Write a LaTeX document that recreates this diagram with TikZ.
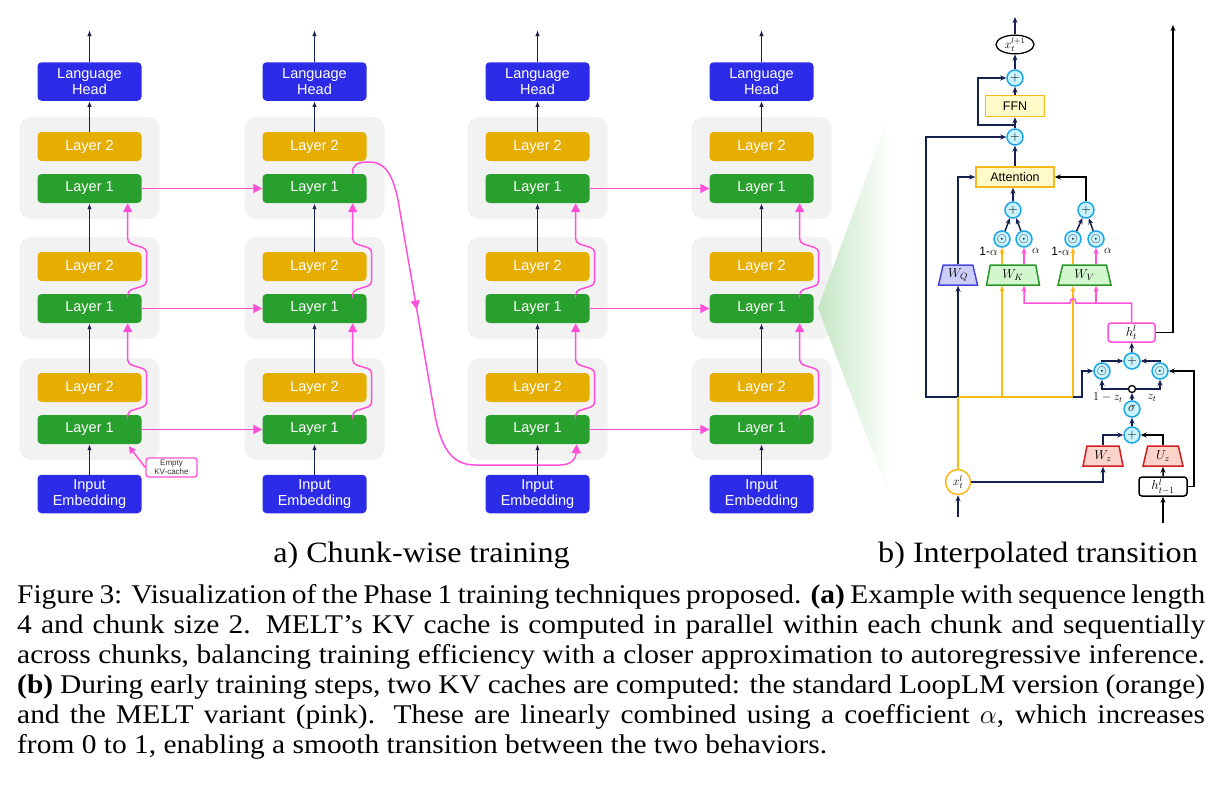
\RequirePackage{fix-cm}
\documentclass[tikz,border=0pt]{standalone}
\usepackage{amsmath}
\usepackage{fontspec}
\setmainfont{Liberation Serif}[FakeStretch=1.09]
\newfontfamily\boxfont{Liberation Sans}
\usetikzlibrary{arrows.meta, shapes.geometric, positioning, decorations.markings}

\definecolor{headblue}{RGB}{44,44,232}
\definecolor{goldlyr}{RGB}{230,174,0}
\definecolor{greenlyr}{RGB}{40,160,45}
\definecolor{grpgray}{RGB}{242,242,242}
\definecolor{kvpink}{RGB}{255,80,215}
\definecolor{navyln}{RGB}{22,32,80}
\definecolor{orgln}{RGB}{250,185,20}
\definecolor{opfill}{RGB}{200,243,255}
\definecolor{opdraw}{RGB}{30,165,230}
\definecolor{ffnfill}{RGB}{255,250,200}
\definecolor{ffndraw}{RGB}{245,185,30}
\definecolor{wqfill}{RGB}{205,205,250}
\definecolor{wqdraw}{RGB}{70,70,220}
\definecolor{wkfill}{RGB}{210,246,205}
\definecolor{wkdraw}{RGB}{40,150,40}
\definecolor{wzfill}{RGB}{250,212,202}
\definecolor{wzdraw}{RGB}{210,30,30}
\definecolor{fadegreen}{RGB}{195,230,195}

\tikzset{
  lyrbox/.style={rounded corners=4pt, minimum width=104pt, minimum height=29pt, inner sep=0pt,
    text=white, font=\boxfont\fontsize{14.5}{16}\selectfont, align=center},
  lyrone/.style={lyrbox, fill=greenlyr},
  lyrtwo/.style={lyrbox, fill=goldlyr},
  headbox/.style={lyrbox, fill=headblue, minimum height=38.5pt},
  grpbox/.style={fill=grpgray, rounded corners=12pt, minimum width=140pt, minimum height=102pt, inner sep=0pt},
  navarr/.style={navyln, line width=1.3pt, -{Latex[length=6pt,width=4.5pt]}},
  pinkarr/.style={kvpink, line width=1.5pt, -{Triangle[length=9pt,width=9pt]}},
  kvbox/.style={draw=kvpink, line width=1.3pt, rounded corners=2.5pt, fill=white, minimum width=51pt,
    minimum height=19pt, inner sep=0pt, align=center, font=\boxfont\fontsize{8}{9}\selectfont, text=black!80},
  opnode/.style={circle, draw=opdraw, fill=opfill, line width=1.5pt, minimum size=16pt, inner sep=0pt,
    font=\fontsize{13}{13}\selectfont},
  wbox/.style={trapezium, trapezium stretches=true, trapezium angle=79, minimum height=20pt,
    line width=1.5pt, inner sep=0pt, font=\fontsize{13}{13}\selectfont},
  tbox/.style={draw=ffndraw, fill=ffnfill, line width=1.5pt, minimum height=21pt, inner sep=0pt,
    font=\boxfont\fontsize{12.5}{13}\selectfont},
  stbox/.style={rounded corners=3pt, fill=white, line width=1.5pt, minimum width=47pt, minimum height=19pt,
    inner sep=0pt, font=\fontsize{13}{13}\selectfont},
  narr/.style={navyln, line width=1.5pt, -{Stealth[length=6pt,width=5pt]}},
  barr/.style={black, line width=1.5pt, -{Stealth[length=6pt,width=5pt]}},
  oarr/.style={orgln, line width=1.5pt, -{Stealth[length=6pt,width=5pt]}},
  parr/.style={kvpink, line width=1.5pt, -{Stealth[length=6pt,width=5pt]}},
  oline/.style={orgln, line width=1.5pt},
  lbl/.style={inner sep=0pt, font=\fontsize{12}{12}\selectfont},
  subcap/.style={anchor=base, inner sep=0pt, font=\fontsize{29.5}{32}\selectfont},
}

\begin{document}
\begin{tikzpicture}[x=1pt, y=-1pt]
\useasboundingbox (0,0) rectangle (1226,798);

% Chunk-wise training: four positions, three loops each
\foreach \i/\x in {1/89.5,2/314.5,3/537.5,4/761.5}{
  \foreach \r/\y in {1/409,2/288,3/168}{
    \node[grpbox] (grp\i\r) at (\x,\y) {};
    \node[lyrtwo] (ltwo\i\r) at (\x,\y-21.5) {Layer 2};
    \node[lyrone] (lone\i\r) at (\x,\y+20.5) {Layer 1};
  }
  \node[headbox] (head\i) at (\x,81.5) {Language\\Head};
  \node[headbox] (emb\i) at (\x,494) {Input\\Embedding};
  \coordinate (out\i) at (\x,30);
  \draw[navarr] (emb\i) -- (lone\i1);
  \draw[navarr] (ltwo\i1) -- (lone\i2);
  \draw[navarr] (ltwo\i2) -- (lone\i3);
  \draw[navarr] (ltwo\i3) -- (head\i);
  \draw[navarr] (head\i) -- (out\i);
  % KV-cache handed to the next loop
  \draw[pinkarr, rounded corners=4pt] ([xshift=-14pt]lone\i1.north east) -- ++(0,-3) -- ++(19,-6)
    -- ++(0,-36) -- ++(-19,-6) -- ([xshift=-14pt]lone\i2.south east);
  \draw[pinkarr, rounded corners=4pt] ([xshift=-14pt]lone\i2.north east) -- ++(0,-3) -- ++(19,-6)
    -- ++(0,-36) -- ++(-19,-6) -- ([xshift=-14pt]lone\i3.south east);
}

% KV-cache shared inside a chunk
\foreach \r in {1,2,3}{
  \draw[pinkarr] (lone1\r) -- (lone2\r);
  \draw[pinkarr] (lone3\r) -- (lone4\r);
}
\node[kvbox] (kv) at (171.5,467.5) {Empty\\KV-cache};
\draw[pinkarr, -{Triangle[length=7pt,width=7pt]}] (kv.west) -- ([xshift=-13pt,yshift=-2pt]lone11.south east);

% last loop of chunk 1 feeds first loop of chunk 2
\draw[kvpink, line width=1.5pt, -{Triangle[length=9pt,width=9pt]}, postaction={decorate},
  decoration={markings, mark=at position 0.39 with {\arrow{Triangle[length=9pt,width=9pt]}}}]
  ([xshift=-14pt]lone23.north east) .. controls (352,164) and (358,162) .. (370,162)
  .. controls (385,162) and (393,175) .. (398,200) -- (434,410)
  .. controls (440,445) and (450,465) .. (475,465) -- (560,465)
  .. controls (572,465) and (576,458) .. ([xshift=-13pt]lone31.south east);

% zoom wedge
\shade[left color=fadegreen, right color=white] (818,308) -- (890,113) -- (890,497) -- cycle;

% Interpolated transition
\node[ellipse, draw, line width=1.3pt, minimum width=38pt, minimum height=17pt, inner sep=0pt,
  font=\fontsize{12}{12}\selectfont] (xout) at (1015,44.5) {$x_t^{l+1}$};
\node[opnode] (pltop) at (1015,78) {$+$};
\node[tbox, minimum width=59pt] (ffn) at (1015,106) {FFN};
\node[opnode] (plmid) at (1015,137) {$+$};
\node[tbox, minimum width=78pt, minimum height=20pt] (attn) at (1015,177) {Attention};
\node[opnode] (plk) at (1013,210) {$+$};
\node[opnode] (plv) at (1086,210) {$+$};
\node[opnode] (dk1) at (1002,239) {$\odot$};
\node[opnode] (dk2) at (1024,239) {$\odot$};
\node[opnode] (dv1) at (1073,239) {$\odot$};
\node[opnode] (dv2) at (1096,239) {$\odot$};
\node[wbox, trapezium angle=76, minimum width=39pt, draw=wqdraw, fill=wqfill] (wq) at (958,275) {$W_Q$};
\node[wbox, trapezium angle=81, minimum width=53pt, draw=wkdraw, fill=wkfill] (wk) at (1013,275) {$W_K$};
\node[wbox, minimum width=53pt, draw=wkdraw, fill=wkfill] (wv) at (1084.5,275) {$W_V$};
\node[stbox, draw=kvpink] (ht) at (1131.5,332.5) {$h_t^l$};
\node[opnode] (plh) at (1132,361) {$+$};
\node[opnode] (dl) at (1102,371) {$\odot$};
\node[opnode] (dr) at (1160,371) {$\odot$};
\node[circle, draw, fill=white, line width=1.3pt, minimum size=7pt, inner sep=0pt] (junc) at (1132,389) {};
\node[opnode] (sig) at (1132,409) {$\sigma$};
\node[opnode] (plz) at (1132,435) {$+$};
\node[wbox, minimum width=40pt, draw=wzdraw, fill=wzfill] (wz) at (1103,456) {$W_z$};
\node[wbox, minimum width=40pt, draw=wzdraw, fill=wzfill] (uz) at (1163,456) {$U_z$};
\node[stbox, draw=black, minimum width=48pt] (hprev) at (1163,486.5) {$h_{t-1}^l$};
\node[circle, draw=orgln, fill=white, line width=1.5pt, minimum size=25pt, inner sep=0pt,
  font=\fontsize{12}{12}\selectfont] (xin) at (958,482) {$x_t^l$};

\node[lbl] (ak1) at (988.5,251) {\boxfont 1-$\alpha$};
\node[lbl] (ak2) at (1036,251) {$\alpha$};
\node[lbl] (av1) at (1060.5,251) {\boxfont 1-$\alpha$};
\node[lbl] (av2) at (1108,251) {$\alpha$};
\node[lbl] (zl) at (1108,398) {$1-z_t$};
\node[lbl] (zr) at (1152,398) {$z_t$};

\coordinate (xtop) at (1015,17);
\coordinate (hout) at (1173,25);
\coordinate (hin) at (1163,523);
\coordinate (xinb) at (958,517);
\coordinate (ffnsplit) at (1015,125);
\coordinate (qsplit) at (958,397);
\coordinate (ksplit) at (1002,397);
\coordinate (vsplit) at (1073,397);
\coordinate (vbar) at (1096,303);

% residual stream
\draw[narr] (xout) -- (xtop);
\draw[narr] (pltop) -- (xout);
\draw[narr] (ffn) -- (pltop);
\draw[narr] (plmid) -- (ffn);
\draw[narr] (attn) -- (plmid);
\draw[narr] (ffnsplit) -- ++(-37,0) |- (pltop);
\draw[narr] (qsplit) -- ++(-32,0) |- (plmid);
\draw[narr] (plk) -- (plk |- attn.south);
\draw[barr] (plv) |- (attn);
\draw[narr] (dk1) -- (plk);
\draw[narr] (dk2) -- (plk);
\draw[narr] (dv1) -- (plv);
\draw[narr] (dv2) -- (plv);

% query path and LoopLM keys/values (orange)
\draw[narr] (xinb) -- (xin);
\draw[oline] (xin) -- (qsplit) -- (vsplit);
\draw[narr] (qsplit) -- (wq);
\draw[narr] (wq) |- (attn);
\draw[oarr] (ksplit) -- (ksplit |- wk.south);
\draw[oarr] (vsplit) -- (vsplit |- wv.south);
\draw[oarr] (dk1 |- wk.north) -- (dk1);
\draw[oarr] (dv1 |- wv.north) -- (dv1);

% MELT keys/values (pink)
\draw[parr] (dk2 |- wk.north) -- (dk2);
\draw[parr] (dv2 |- wv.north) -- (dv2);
\draw[parr] (ht.north) |- (1076,303) .. controls (1076,297) and (1070,297) .. (1070,303) -| (dk2 |- wk.south);
\draw[parr] (vbar) -- (vbar |- wv.south);
\draw[barr] (ht.east) -| (hout);

% gated state update
\draw[narr] (vsplit) -- ++(9,0) |- (dl);
\draw[narr] (dl) |- (plh);
\draw[narr] (dr) |- (plh);
\draw[narr] (plh) -- (ht);
\draw[narr] (junc) -| (dl);
\draw[narr] (junc) -| (dr);
\draw[narr] (sig) -- (junc);
\draw[narr] (plz) -- (sig);
\draw[narr] (wz) |- (plz);
\draw[barr] (uz) |- (plz);
\draw[barr] (hprev) -- (uz);
\draw[barr] (hin) -- (hprev);
\draw[barr] (hprev.east) -- ++(6,0) |- (dr);
\draw[narr] (xin) -| (wz);

% captions
\node[subcap] (capa) at (421.5,562) {a) Chunk-wise training};
\node[subcap] (capb) at (1038,562) {b) Interpolated transition};
\node[anchor=base west, inner sep=0pt] (caption) at (17,603) {\parbox[t]{1188pt}{\fontsize{27}{30}\selectfont
\makebox[1188pt][s]{Figure 3: Visualization of the Phase 1 training techniques proposed. \textbf{(a)} Example with sequence length}\\
\makebox[1188pt][s]{4 and chunk size 2. MELT’s KV cache is computed in parallel within each chunk and sequentially}\\
\makebox[1188pt][s]{across chunks, balancing training efficiency with a closer approximation to autoregressive inference.}\\
\makebox[1188pt][s]{\textbf{(b)} During early training steps, two KV caches are computed: the standard LoopLM version (orange)}\\
\makebox[1188pt][s]{and the MELT variant (pink). These are linearly combined using a coefficient $\alpha$, which increases}\\
from 0 to 1, enabling a smooth transition between the two behaviors.}};
\end{tikzpicture}
\end{document}
